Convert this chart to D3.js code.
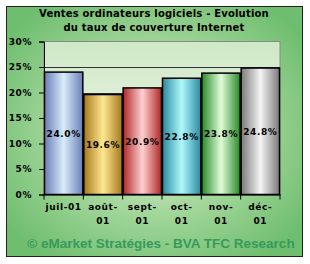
<!DOCTYPE html>
<html>
<head>
<meta charset="utf-8">
<script src="https://cdn.jsdelivr.net/npm/d3@7"></script>
<style>
  body { margin: 0; background: #fff; }
  svg { display: block; font-family: Verdana, "DejaVu Sans", sans-serif; }
</style>
</head>
<body>
<svg id="chart" width="310" height="264"></svg>
<script>
const months = ["juil-01", "août-01", "sept-01", "oct-01", "nov-01", "déc-01"];
const monthLines = [["juil-01"], ["août-", "01"], ["sept-", "01"], ["oct-", "01"], ["nov-", "01"], ["déc-", "01"]];
const rates = [24.0, 19.6, 20.9, 22.8, 23.8, 24.8];
const yTicks = [0, 5, 10, 15, 20, 25, 30];
// edge / centre colour for each cylinder
const barEdge = ["#6a7fb8", "#a8781c", "#b02828", "#2a8aa0", "#2a8a2a", "#7a7a7a"];
const barMid = ["#d8ecfa", "#fde890", "#ffd0d0", "#b0f8fc", "#e0fcd8", "#f4f4f4"];

const svg = d3.select("#chart");
const defs = svg.append("defs");

const bg = defs.append("radialGradient").attr("id", "bg").attr("cx", "50%").attr("cy", "50%").attr("r", "62%");
bg.append("stop").attr("offset", "0%").attr("stop-color", "#f4fbf2");
bg.append("stop").attr("offset", "50%").attr("stop-color", "#a6d89d");
bg.append("stop").attr("offset", "100%").attr("stop-color", "#6fbe6f");

const plotBg = defs.append("linearGradient").attr("id", "plotbg").attr("x1", 0).attr("y1", 0).attr("x2", 0).attr("y2", 1);
plotBg.append("stop").attr("offset", "0%").attr("stop-color", "#cfe8c6");
plotBg.append("stop").attr("offset", "100%").attr("stop-color", "#f6fbf2");

barEdge.forEach((c, i) => {
    const g = defs.append("linearGradient").attr("id", "bar" + i).attr("x1", 0).attr("x2", 1).attr("y1", 0).attr("y2", 0);
    g.append("stop").attr("offset", "0%").attr("stop-color", c);
    g.append("stop").attr("offset", "50%").attr("stop-color", barMid[i]);
    g.append("stop").attr("offset", "100%").attr("stop-color", c);
});

svg.append("rect").attr("x", 6.5).attr("y", 6.5).attr("width", 296).attr("height", 250)
    .attr("fill", "url(#bg)").attr("stroke", "#222").attr("stroke-width", 1);

svg.append("text").attr("x", 154).attr("y", 17).attr("text-anchor", "middle")
    .attr("font-size", 10).attr("font-weight", "bold").attr("letter-spacing", 0.2)
    .text("Ventes ordinateurs logiciels - Evolution");
svg.append("text").attr("x", 154).attr("y", 31).attr("text-anchor", "middle")
    .attr("font-size", 10).attr("font-weight", "bold").attr("letter-spacing", 0.2)
    .text("du taux de couverture Internet");

const plotL = 44, plotR = 280, plotT = 41.5, plotB = 194.5;

const x = d3.scaleBand().domain(months).range([plotL, plotR]).padding(0);
const y = d3.scaleLinear().domain([0, 30]).range([plotB, plotT]);

svg.append("rect").attr("x", plotL).attr("y", plotT).attr("width", plotR - plotL).attr("height", plotB - plotT)
    .attr("fill", "url(#plotbg)").attr("stroke", "#888").attr("stroke-width", 1);

svg.append("g").selectAll("line").data(yTicks.filter(t => t > 0 && t < 30)).join("line")
    .attr("x1", plotL).attr("x2", plotR)
    .attr("y1", d => Math.round(y(d)) + 0.5).attr("y2", d => Math.round(y(d)) + 0.5)
    .attr("stroke", "#333").attr("stroke-width", 1);

svg.append("g").selectAll("rect").data(rates).join("rect")
    .attr("x", (d, i) => x(months[i]) + 0.5)
    .attr("width", x.bandwidth() - 1)
    .attr("y", d => y(d))
    .attr("height", d => plotB - y(d))
    .attr("fill", (d, i) => `url(#bar${i})`)
    .attr("stroke", "#000").attr("stroke-width", 1.5);

svg.append("g").selectAll("text").data(rates).join("text")
    .attr("x", (d, i) => x(months[i]) + x.bandwidth() / 2)
    .attr("y", d => (y(d) + plotB) / 2 + 3.5)
    .attr("text-anchor", "middle").attr("font-size", 9).attr("font-weight", "bold")
    .attr("letter-spacing", 0.6)
    .text(d => d.toFixed(1) + "%");

const yAxis = svg.append("g").attr("transform", `translate(${plotL},0)`)
    .call(d3.axisLeft(y).tickValues(yTicks).tickSize(5).tickFormat(d => d + "%"));
yAxis.select(".domain").attr("stroke", "#000");
yAxis.selectAll("line").attr("stroke", "#000");
yAxis.selectAll("text").attr("font-size", 9).attr("font-weight", "bold").attr("fill", "#000")
    .attr("font-family", "Verdana, 'DejaVu Sans', sans-serif").attr("letter-spacing", 0.6).attr("dx", -4);

const xAxis = svg.append("g").attr("transform", `translate(0,${plotB})`)
    .call(d3.axisBottom(x).tickSize(5).tickSizeOuter(0).tickFormat(""));
xAxis.select(".domain").attr("stroke", "#000");
// ticks at band edges
xAxis.selectAll(".tick line").attr("transform", `translate(${-x.bandwidth() / 2},0)`).attr("stroke", "#000");
xAxis.append("line").attr("x1", plotR).attr("x2", plotR).attr("y1", 0).attr("y2", 5).attr("stroke", "#000");

const xl = svg.append("g").selectAll("text").data(monthLines).join("text")
    .attr("text-anchor", "middle").attr("font-size", 9).attr("font-weight", "bold").attr("letter-spacing", 0.6);
xl.each(function (lines, i) {
    d3.select(this).selectAll("tspan").data(lines).join("tspan")
        .attr("x", x(months[i]) + x.bandwidth() / 2)
        .attr("y", (d, j) => 210 + j * 14)
        .text(d => d);
});

svg.append("text").attr("x", 161).attr("y", 248).attr("text-anchor", "middle")
    .attr("font-size", 13.5).attr("font-weight", "bold").attr("fill", "#379a5c")
    .attr("font-family", "Arial, 'Liberation Sans', sans-serif")
    .text("© eMarket Stratégies  - BVA TFC Research");
</script>
</body>
</html>
